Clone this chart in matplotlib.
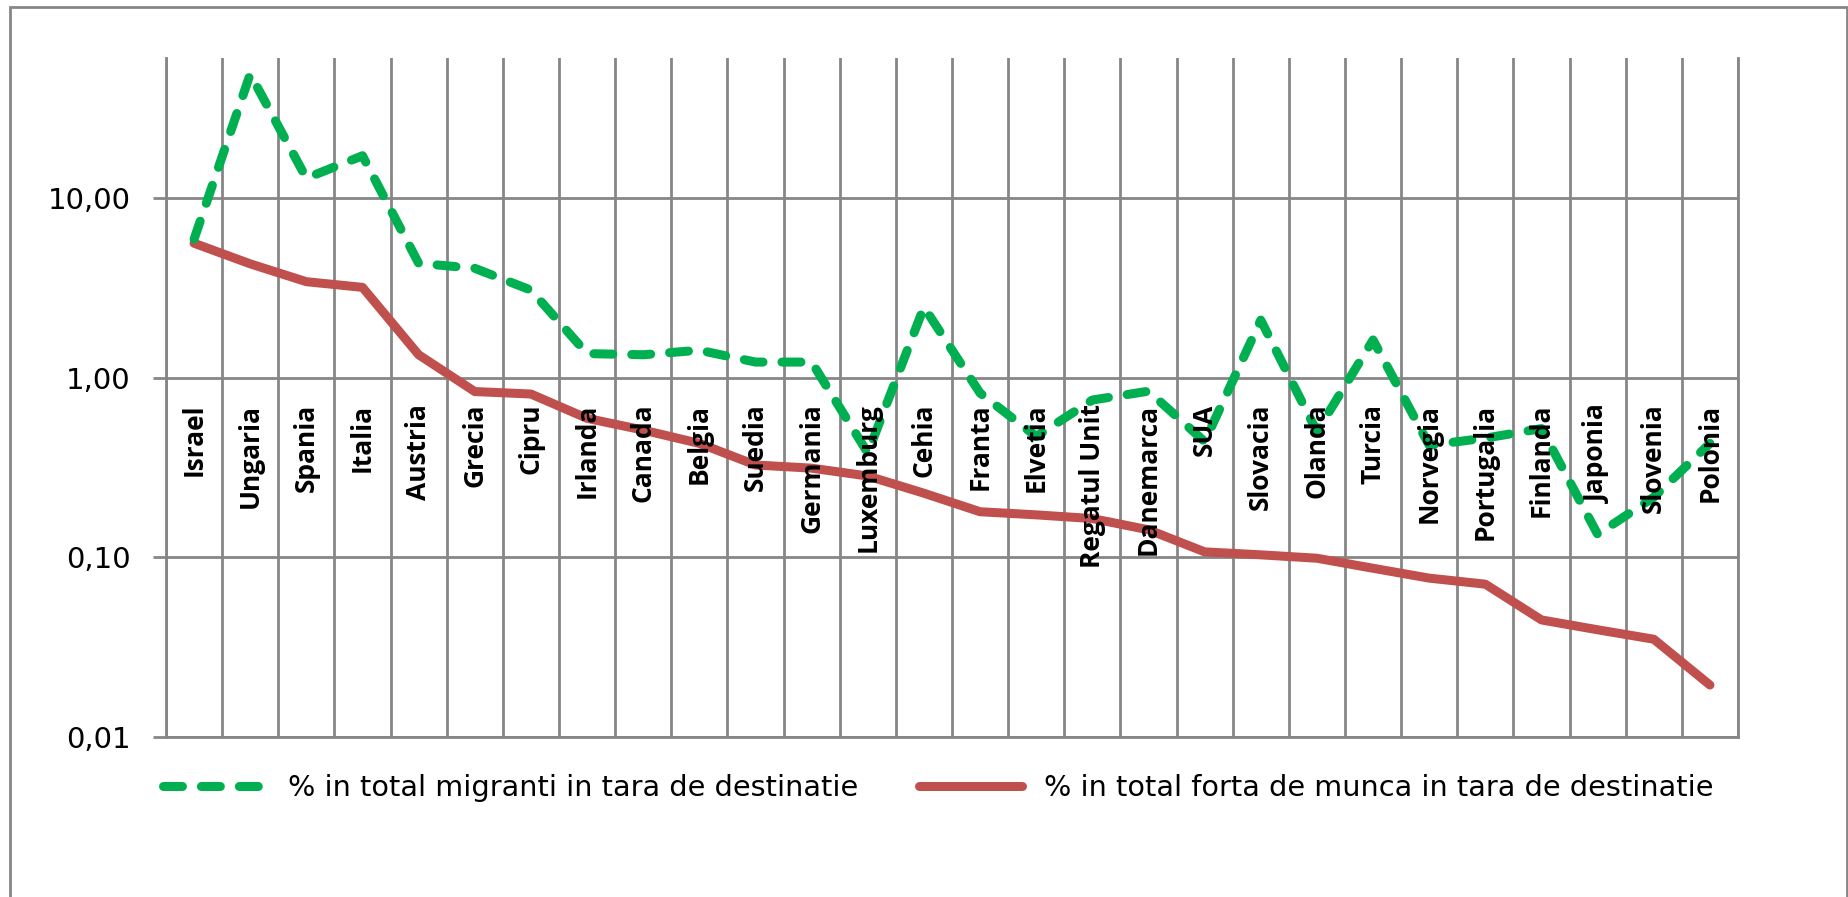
import matplotlib.pyplot as plt
from matplotlib.patches import Rectangle
from matplotlib.ticker import FixedLocator, FuncFormatter

countries = ["Israel", "Ungaria", "Spania", "Italia", "Austria", "Grecia", "Cipru",
             "Irlanda", "Canada", "Belgia", "Suedia", "Germania", "Luxemburg", "Cehia",
             "Franta", "Elvetia", "Regatul Unit", "Danemarca", "SUA", "Slovacia",
             "Olanda", "Turcia", "Norvegia", "Portugalia", "Finlanda", "Japonia",
             "Slovenia", "Polonia"]

# % in total migranti in tara de destinatie
migranti = [5.9, 49.0, 12.9, 17.2, 4.33, 4.06, 3.07, 1.36, 1.34, 1.42, 1.22, 1.22,
            0.38, 2.47, 0.82, 0.47, 0.75, 0.84, 0.44, 2.09, 0.50, 1.62, 0.42, 0.46,
            0.52, 0.134, 0.216, 0.43]

# % in total forta de munca in tara de destinatie
forta = [5.6, 4.3, 3.42, 3.18, 1.34, 0.836, 0.81, 0.593, 0.51, 0.43, 0.326, 0.313,
         0.283, 0.227, 0.179, 0.172, 0.164, 0.142, 0.107, 0.103, 0.0986, 0.0867,
         0.0764, 0.0707, 0.0447, 0.0394, 0.0349, 0.0194]

label_migranti = "% in total migranti in tara de destinatie"
label_forta = "% in total forta de munca in tara de destinatie"

yticks = [0.01, 0.1, 1, 10]

GRID = "#868686"
GREEN = "#00B050"
RED = "#C0504D"

W, H = 1849, 897
fig = plt.figure(figsize=(W / 100, H / 100), dpi=100)

# outer chart border (bottom edge falls outside the picture)
fig.add_artist(Rectangle((10 / W, -0.05), (1837 / W), 1.05 - 7 / H,
                         transform=fig.transFigure, fill=False,
                         edgecolor=GRID, linewidth=2))

ax = fig.add_axes([166 / W, 1 - 736.7 / H, (1738 - 166) / W, (736.7 - 58.3) / H])

x = list(range(len(countries)))
ax.plot(x, migranti, color=GREEN, linewidth=6.5, dashes=(2.1, 2.1),
        dash_capstyle="round", dash_joinstyle="round", label=label_migranti, zorder=4)
ax.plot(x, forta, color=RED, linewidth=6.5, solid_capstyle="round",
        solid_joinstyle="round", label=label_forta, zorder=3)

ax.set_yscale("log")
ax.set_ylim(0.01, 60)
ax.set_xlim(-0.5, len(countries) - 0.5)

ax.yaxis.set_major_locator(FixedLocator(yticks))
ax.yaxis.set_minor_locator(FixedLocator([]))
ax.yaxis.set_major_formatter(FuncFormatter(lambda v, p: f"{v:.2f}".replace(".", ",")))
ax.tick_params(axis="y", which="major", length=9.4, width=2, color=GRID, pad=16,
               labelsize=21)

ax.set_xticks([])
ax.xaxis.set_minor_locator(FixedLocator([i - 0.5 for i in range(len(countries) + 1)]))
ax.tick_params(axis="x", which="minor", length=0)

ax.grid(True, axis="y", which="major", color=GRID, linewidth=2)
ax.grid(True, axis="x", which="minor", color=GRID, linewidth=2)
ax.set_axisbelow(True)

ax.spines["top"].set_visible(False)
for s in ["left", "right", "bottom"]:
    ax.spines[s].set_color(GRID)
    ax.spines[s].set_linewidth(2)

# category labels sit under the axis line at 1,00
for i, name in enumerate(countries):
    ax.text(i, 0.715, name, rotation=90, ha="center", va="top", fontsize=19,
            fontweight="bold", family=["Open Sans", "DejaVu Sans"], zorder=5)

leg = ax.legend(loc="center left", bbox_to_anchor=(163 / W, 1 - 788 / H),
                bbox_transform=fig.transFigure, ncol=2, frameon=False,
                borderpad=0, borderaxespad=0, handlelength=3.6, handletextpad=0.75,
                columnspacing=2.1, prop={"size": 20.7})

fig.savefig("out.png", dpi=100)
